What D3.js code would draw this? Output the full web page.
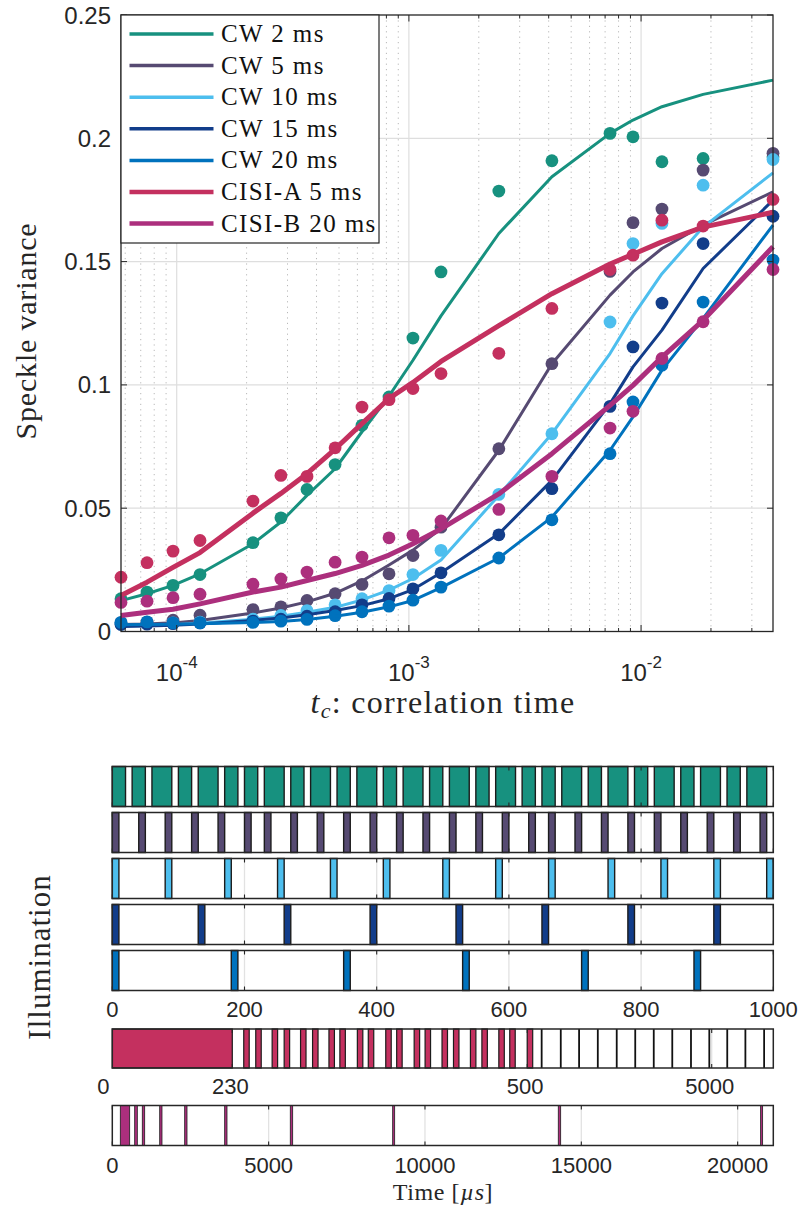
<!DOCTYPE html>
<html>
<head>
<meta charset="utf-8">
<title>Speckle variance and illumination schemes</title>
<script src="https://cdn.jsdelivr.net/npm/d3@7/dist/d3.min.js"></script>
<style>
  html, body { margin: 0; padding: 0; background: #ffffff; }
  svg { display: block; }
</style>
</head>
<body>
<svg id="fig" width="800" height="1209" xmlns="http://www.w3.org/2000/svg"></svg>
<script>
// ---------------- Speckle variance data ----------------
// correlation times (s)
const correlationTimes = [5.755e-5, 7.45e-5, 9.64e-5, 1.26e-4, 2.13e-4, 2.81e-4, 3.64e-4, 4.81e-4, 6.28e-4, 8.21e-4,
  1.041e-3, 1.375e-3, 2.44e-3, 4.13e-3, 7.35e-3, 9.23e-3, 1.23e-2, 1.85e-2, 3.70e-2];

const seriesLabels = ["CW 2 ms", "CW 5 ms", "CW 10 ms", "CW 15 ms", "CW 20 ms", "CISI-A 5 ms", "CISI-B 20 ms"];
const seriesColors = ["#17917f", "#564a72", "#4dbeee", "#123d8a", "#0072bd", "#c4305f", "#ac2f7d"];

// measured speckle variance
const measuredCW2   = [0.0133, 0.0160, 0.0187, 0.0231, 0.0360, 0.0461, 0.0576, 0.0677, 0.0836, 0.0951, 0.1190, 0.1458, 0.1786, 0.1909, 0.2020, 0.2006, 0.1905, 0.1918, 0.1925];
const measuredCW5   = [0.0035, 0.0038, 0.0046, 0.0066, 0.0089, 0.0100, 0.0126, 0.0153, 0.0191, 0.0234, 0.0308, 0.0423, 0.0741, 0.1086, 0.1460, 0.1658, 0.1713, 0.1871, 0.1939];
const measuredCW10  = [0.0030, 0.0032, 0.0035, 0.0038, 0.0050, 0.0065, 0.0085, 0.0108, 0.0133, 0.0166, 0.0231, 0.0329, 0.0556, 0.0802, 0.1255, 0.1573, 0.1655, 0.1810, 0.1914];
const measuredCW15  = [0.0028, 0.0030, 0.0032, 0.0035, 0.0042, 0.0050, 0.0062, 0.0080, 0.0108, 0.0134, 0.0173, 0.0238, 0.0392, 0.0579, 0.0913, 0.1154, 0.1332, 0.1573, 0.1684];
const measuredCW20  = [0.0037, 0.0039, 0.0035, 0.0035, 0.0037, 0.0042, 0.0049, 0.0064, 0.0080, 0.0103, 0.0127, 0.0180, 0.0298, 0.0453, 0.0721, 0.0931, 0.1080, 0.1336, 0.1506];
const measuredCISIA = [0.0220, 0.0279, 0.0326, 0.0369, 0.0529, 0.0633, 0.0629, 0.0745, 0.0910, 0.0940, 0.0985, 0.1046, 0.1128, 0.1310, 0.1468, 0.1526, 0.1668, 0.1644, 0.1752];
const measuredCISIB = [0.0118, 0.0123, 0.0137, 0.0151, 0.0192, 0.0213, 0.0241, 0.0281, 0.0302, 0.0380, 0.0390, 0.0448, 0.0495, 0.0629, 0.0825, 0.0893, 0.1107, 0.1256, 0.1468];

// fitted model curves, evaluated at the same correlation times
const fitCW2   = [0.0125, 0.0153, 0.0187, 0.0234, 0.0356, 0.0444, 0.0552, 0.0660, 0.0810, 0.0955, 0.1100, 0.1280, 0.1614, 0.1844, 0.2020, 0.2074, 0.2128, 0.2178, 0.2236];
const fitCW5   = [0.0028, 0.0030, 0.0035, 0.0045, 0.0075, 0.0095, 0.0120, 0.0155, 0.0205, 0.0270, 0.0330, 0.0417, 0.0735, 0.1086, 0.1364, 0.1458, 0.1553, 0.1648, 0.1783];
const fitCW10  = [0.0022, 0.0024, 0.0027, 0.0033, 0.0050, 0.0062, 0.0078, 0.0098, 0.0128, 0.0168, 0.0215, 0.0290, 0.0552, 0.0802, 0.1127, 0.1280, 0.1451, 0.1640, 0.1860];
const fitCW15  = [0.0020, 0.0022, 0.0025, 0.0030, 0.0045, 0.0055, 0.0068, 0.0085, 0.0105, 0.0133, 0.0170, 0.0238, 0.0396, 0.0613, 0.0924, 0.1073, 0.1222, 0.1472, 0.1749];
const fitCW20  = [0.0027, 0.0028, 0.0029, 0.0031, 0.0036, 0.0041, 0.0049, 0.0062, 0.0078, 0.0100, 0.0126, 0.0178, 0.0298, 0.0464, 0.0735, 0.0870, 0.1060, 0.1270, 0.1648];
const fitCISIA = [0.0146, 0.0200, 0.0260, 0.0320, 0.0480, 0.0560, 0.0640, 0.0740, 0.0843, 0.0945, 0.1010, 0.1095, 0.1240, 0.1370, 0.1490, 0.1530, 0.1580, 0.1640, 0.1700];
const fitCISIB = [0.0065, 0.0078, 0.0090, 0.0112, 0.0160, 0.0180, 0.0207, 0.0235, 0.0268, 0.0310, 0.0356, 0.0416, 0.0558, 0.0721, 0.0917, 0.0998, 0.1113, 0.1262, 0.1560];

const measuredSets = [measuredCW2, measuredCW5, measuredCW10, measuredCW15, measuredCW20, measuredCISIA, measuredCISIB];
const fitSets      = [fitCW2, fitCW5, fitCW10, fitCW15, fitCW20, fitCISIA, fitCISIB];

const varianceTicks = [0, 0.05, 0.1, 0.15, 0.2, 0.25];
const varianceTickLabels = ["0", "0.05", "0.1", "0.15", "0.2", "0.25"];
const decadeTicks = [1e-4, 1e-3, 1e-2];
const decadeExponents = ["-4", "-3", "-2"];

// ---------------- Illumination schemes (µs) ----------------
const cwTimeTicks = [0, 200, 400, 600, 800, 1000];
const onCW2 = [[0,20],[30,50],[60,90],[100,120],[130,160],[170,190],[200,220],[230,260],[270,290],[300,330],
  [340,360],[370,400],[410,430],[440,470],[480,500],[510,540],[550,570],[580,610],[620,640],[650,670],
  [680,710],[720,740],[750,780],[790,810],[820,850],[860,880],[890,920],[930,950],[960,990]];
const onCW5 = [[0,10],[40,50],[80,90],[120,130],[160,170],[200,210],[230,240],[270,280],[310,320],[350,360],
  [390,400],[430,440],[470,480],[510,520],[550,560],[590,600],[630,640],[660,670],[700,710],[740,750],
  [780,790],[820,830],[860,870],[900,910],[940,950],[980,990]];
const onCW10 = [[0,10],[80,90],[170,180],[250,260],[330,340],[410,420],[500,510],[580,590],[660,670],[750,760],[830,840],[910,920],[990,1000]];
const onCW15 = [[0,10],[130,140],[260,270],[390,400],[520,530],[650,660],[780,790],[910,920]];
const onCW20 = [[0,10],[180,190],[350,360],[530,540],[710,720],[880,890]];

// CISI-A: continuous block, then pulse pairs, then dark frames (broken time axis)
const cisiATicks = [0, 230, 500, 5000];
const cisiABreaks = [0, 230, 505, 5000, 6545];
const onCISIA = [[0,230],[240.5,245.5],[251.5,256.5],[266.5,271.5],[277.5,282.5],[292.5,297.5],[303.5,308.5],
  [318.5,323.5],[328.5,333.5],[344.5,349.5],[354.5,359.5],[370.5,375.5],[380.5,385.5],[396.5,401.5],[406.5,411.5],
  [422,427],[432.5,437.5],[448,453],[458.5,463.5],[474,479],[484,489],[500,505]];
const frameEdgesCISIA = [730, 1210, 1670, 2140, 2615, 3080, 3545, 4010, 4480, 4940, 5390, 5845, 6315];

// CISI-B: one block followed by short pulses with growing spacing
const cisiBTicks = [0, 5000, 10000, 15000, 20000];
const cisiBEnd = 21140;
const onCISIB = [[256,556],[716,800],[959,1036],[1516,1589],[2315,2389],[3594,3668],[5692,5769],[8967,9031],[14263,14340],[20735,20799]];

// ---------------- drawing ----------------
const svg = d3.select("#fig");
const serif = "'Liberation Serif', 'Times New Roman', serif";
const sans = "'Liberation Sans', Arial, Helvetica, sans-serif";
const ink = "#262626";

// ===== upper panel: speckle variance vs correlation time =====
const P = { left: 121, right: 773, top: 15, bottom: 631.5 };
const x = d3.scaleLog().domain([correlationTimes[0], correlationTimes[correlationTimes.length - 1]]).range([P.left, P.right]);
const y = d3.scaleLinear().domain([0, 0.25]).range([P.bottom, P.top]);

const panel = svg.append("g");
panel.append("rect").attr("x", P.left).attr("y", P.top).attr("width", P.right - P.left).attr("height", P.bottom - P.top).attr("fill", "#fff");

const allLogTicks = x.ticks();
const minorTicks = allLogTicks.filter(v => Math.abs(Math.log10(v) - Math.round(Math.log10(v))) > 1e-9);

// minor (dotted) vertical grid
panel.append("g").selectAll("line").data(minorTicks).join("line")
  .attr("x1", d => x(d)).attr("x2", d => x(d)).attr("y1", P.top).attr("y2", P.bottom)
  .attr("stroke", "#b8b8b8").attr("stroke-width", 1).attr("stroke-dasharray", "1.2,4.2");
// major grids
panel.append("g").selectAll("line").data(decadeTicks).join("line")
  .attr("x1", d => x(d)).attr("x2", d => x(d)).attr("y1", P.top).attr("y2", P.bottom)
  .attr("stroke", "#dedede").attr("stroke-width", 1.2);
panel.append("g").selectAll("line").data(varianceTicks.slice(1, -1)).join("line")
  .attr("x1", P.left).attr("x2", P.right).attr("y1", d => y(d)).attr("y2", d => y(d))
  .attr("stroke", "#dedede").attr("stroke-width", 1.2);

// series: markers then fitted curve
const curve = d3.line().x((d, i) => x(correlationTimes[i])).y(d => y(d));
seriesLabels.forEach((name, s) => {
  const col = seriesColors[s];
  panel.append("g").selectAll("circle").data(measuredSets[s]).join("circle")
    .attr("cx", (d, i) => x(correlationTimes[i])).attr("cy", d => y(d)).attr("r", 6.4)
    .attr("fill", col);
  panel.append("path").datum(fitSets[s]).attr("d", curve)
    .attr("fill", "none").attr("stroke", col)
    .attr("stroke-width", s >= 5 ? 5 : 3).attr("stroke-linejoin", "round");
});

// axes box and ticks
const tickG = panel.append("g").attr("stroke", ink);
tickG.append("g").selectAll("line").data(varianceTicks).join("line")
  .attr("x1", P.left).attr("x2", P.left + 6).attr("y1", d => y(d)).attr("y2", d => y(d));
tickG.append("g").selectAll("line").data(varianceTicks).join("line")
  .attr("x1", P.right).attr("x2", P.right - 6).attr("y1", d => y(d)).attr("y2", d => y(d));
[P.bottom, P.top].forEach(edge => {
  const dir = edge === P.bottom ? -1 : 1;
  tickG.append("g").selectAll("line").data(decadeTicks).join("line")
    .attr("x1", d => x(d)).attr("x2", d => x(d)).attr("y1", edge).attr("y2", edge + dir * 6.5);
  tickG.append("g").selectAll("line").data(minorTicks).join("line")
    .attr("x1", d => x(d)).attr("x2", d => x(d)).attr("y1", edge).attr("y2", edge + dir * 3.5);
});
panel.append("rect").attr("x", P.left).attr("y", P.top).attr("width", P.right - P.left).attr("height", P.bottom - P.top)
  .attr("fill", "none").attr("stroke", ink).attr("stroke-width", 1.3);

// tick labels
panel.append("g").selectAll("text").data(varianceTicks).join("text")
  .attr("x", 111).attr("y", d => y(d) + 8.5).attr("text-anchor", "end")
  .attr("font-family", sans).attr("font-size", 24).attr("fill", ink)
  .text((d, i) => varianceTickLabels[i]);
const xl = panel.append("g").selectAll("text").data(decadeTicks).join("text")
  .attr("x", d => x(d)).attr("y", 681).attr("text-anchor", "middle")
  .attr("font-family", sans).attr("font-size", 24).attr("fill", ink);
xl.append("tspan").text("10");
xl.append("tspan").attr("dy", -13).attr("font-size", 17).text((d, i) => decadeExponents[i]);

// axis titles
const xt = panel.append("text").attr("x", 443).attr("y", 713).attr("text-anchor", "middle")
  .attr("font-family", serif).attr("font-size", 32).attr("fill", ink).attr("letter-spacing", 1.3);
xt.append("tspan").attr("font-style", "italic").text("t");
xt.append("tspan").attr("font-style", "italic").attr("font-size", 22).attr("dy", 5).text("c");
xt.append("tspan").attr("dy", -5).text(": correlation time");

panel.append("text").attr("transform", "translate(36,331) rotate(-90)").attr("text-anchor", "middle")
  .attr("font-family", serif).attr("font-size", 30).attr("fill", ink).attr("letter-spacing", 0.8)
  .text("Speckle variance");

// legend
const L = { x: 121, y: 15, w: 258, h: 228, row0: 34, step: 31.6 };
const leg = panel.append("g");
leg.append("rect").attr("x", L.x).attr("y", L.y).attr("width", L.w).attr("height", L.h)
  .attr("fill", "#fff").attr("stroke", ink).attr("stroke-width", 1.2);
const items = leg.selectAll("g").data(seriesLabels).join("g")
  .attr("transform", (d, i) => `translate(0,${L.row0 + i * L.step})`);
items.append("line").attr("x1", 129.5).attr("x2", 213.5).attr("y1", 0).attr("y2", 0)
  .attr("stroke", (d, i) => seriesColors[i]).attr("stroke-width", (d, i) => i >= 5 ? 4.5 : 3.5);
items.append("text").attr("x", 221).attr("y", 8).attr("font-family", serif).attr("font-size", 25)
  .attr("letter-spacing", 1.4).attr("fill", "#111").text(d => d);

// ===== lower panels: illumination timing =====
const R = { left: 112.3, right: 773.3 };
const rowW = R.right - R.left;
const bars = svg.append("g");

function drawRow(rowTop, rowH, scale, intervals, color, gridVals, tickVals, edges, barStroke) {
  const g = bars.append("g");
  g.append("rect").attr("x", R.left).attr("y", rowTop).attr("width", rowW).attr("height", rowH).attr("fill", "#fff");
  g.append("g").selectAll("line").data(gridVals).join("line")
    .attr("x1", d => scale(d)).attr("x2", d => scale(d)).attr("y1", rowTop).attr("y2", rowTop + rowH)
    .attr("stroke", "#e2e2e2").attr("stroke-width", 1.3);
  g.append("g").selectAll("rect").data(intervals).join("rect")
    .attr("x", d => scale(d[0])).attr("width", d => scale(d[1]) - scale(d[0]))
    .attr("y", rowTop).attr("height", rowH)
    .attr("fill", color).attr("stroke", "#1c1c1c").attr("stroke-width", barStroke);
  if (edges) {
    g.append("g").selectAll("line").data(edges).join("line")
      .attr("x1", d => scale(d)).attr("x2", d => scale(d)).attr("y1", rowTop).attr("y2", rowTop + rowH)
      .attr("stroke", "#111").attr("stroke-width", 1.8);
  }
  const t = g.append("g").attr("stroke", ink).attr("stroke-width", 1.1);
  t.append("g").selectAll("line").data(tickVals).join("line")
    .attr("x1", d => scale(d)).attr("x2", d => scale(d)).attr("y1", rowTop + rowH).attr("y2", rowTop + rowH - 4);
  t.append("g").selectAll("line").data(tickVals).join("line")
    .attr("x1", d => scale(d)).attr("x2", d => scale(d)).attr("y1", rowTop).attr("y2", rowTop + 4);
  g.append("rect").attr("x", R.left).attr("y", rowTop).attr("width", rowW).attr("height", rowH)
    .attr("fill", "none").attr("stroke", ink).attr("stroke-width", 1.5);
}

const xCW = d3.scaleLinear().domain([0, 1000]).range([R.left, R.right]);
const cwRows = [onCW2, onCW5, onCW10, onCW15, onCW20];
const cwTops = [766.5, 812.5, 858.5, 904.5, 950.5];
cwRows.forEach((iv, k) => drawRow(cwTops[k], 40, xCW, iv, seriesColors[k], cwTimeTicks.slice(1, -1), cwTimeTicks, null, 1.4));

const xA = d3.scaleLinear().domain(cisiABreaks)
  .range([0, 0.1815, 0.636, 0.9068, 1].map(f => R.left + f * rowW));
drawRow(1029, 39, xA, onCISIA, seriesColors[5], cisiATicks.slice(1), cisiATicks.slice(1), frameEdgesCISIA, 1.2);

const xB = d3.scaleLinear().domain([0, cisiBEnd]).range([R.left, R.right]);
drawRow(1105.5, 40, xB, onCISIB, seriesColors[6], cisiBTicks.slice(1), cisiBTicks, null, 0.8);

// tick labels of the timing axes
const lab = svg.append("g").attr("font-family", sans).attr("font-size", 22).attr("fill", ink).attr("text-anchor", "middle");
lab.append("g").selectAll("text").data(cwTimeTicks).join("text")
  .attr("x", d => xCW(d)).attr("y", 1017).text(d => d);
lab.append("g").selectAll("text").data(cisiATicks).join("text")
  .attr("x", d => d === 0 ? xA(d) - 9 : xA(d) - 2).attr("y", 1094).text(d => d);
lab.append("g").selectAll("text").data(cisiBTicks).join("text")
  .attr("x", d => xB(d)).attr("y", 1173).text(d => d);

const tl = svg.append("text").attr("x", 443).attr("y", 1200).attr("text-anchor", "middle")
  .attr("font-family", serif).attr("font-size", 24).attr("fill", ink).attr("letter-spacing", 0.6);
tl.append("tspan").text("Time [");
tl.append("tspan").attr("font-style", "italic").text("µs");
tl.append("tspan").text("]");

svg.append("text").attr("transform", "translate(50,957) rotate(-90)").attr("text-anchor", "middle")
  .attr("font-family", serif).attr("font-size", 31).attr("fill", ink).attr("letter-spacing", 1)
  .text("Illumination");
</script>
</body>
</html>
